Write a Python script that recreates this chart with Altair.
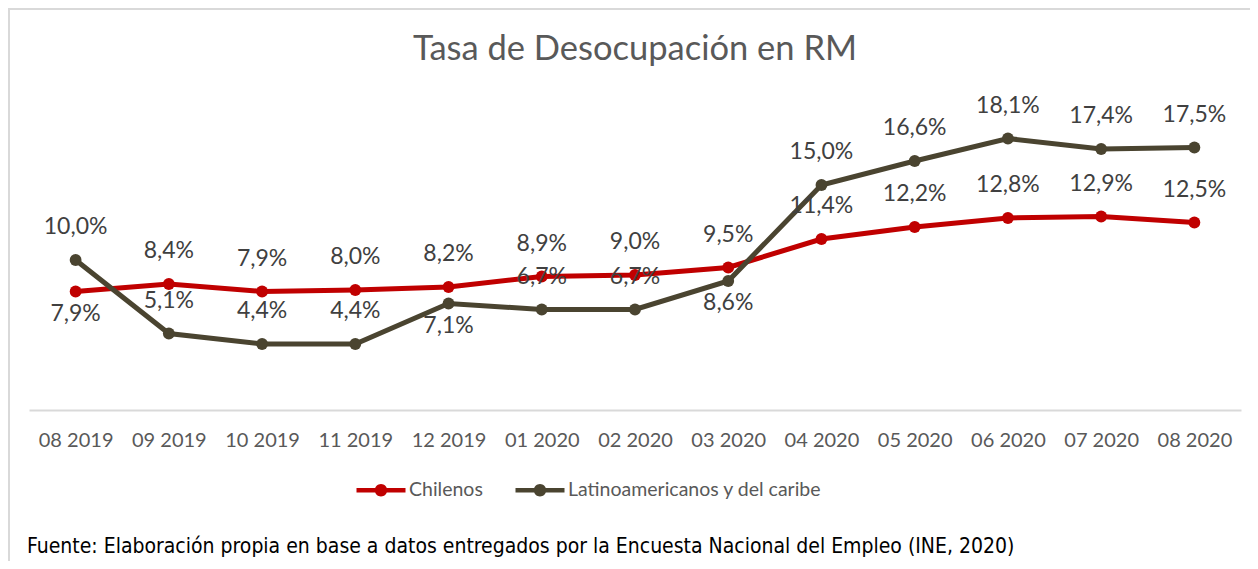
import altair as alt
import pandas as pd

months = ["08 2019", "09 2019", "10 2019", "11 2019", "12 2019", "01 2020", "02 2020",
          "03 2020", "04 2020", "05 2020", "06 2020", "07 2020", "08 2020"]
chilenos = [7.9, 8.4, 7.9, 8.0, 8.2, 8.9, 9.0, 9.5, 11.4, 12.2, 12.8, 12.9, 12.5]
latam = [10.0, 5.1, 4.4, 4.4, 7.1, 6.7, 6.7, 8.6, 15.0, 16.6, 18.1, 17.4, 17.5]
series_names = ["Chilenos", "Latinoamericanos y del caribe"]
title_text = "Tasa de Desocupación en RM"
source_text = "Fuente: Elaboración  propia en base a datos entregados por la Encuesta Nacional del Empleo (INE, 2020)"

# which labels sit below their point (index into months)
below = {"Chilenos": {0}, "Latinoamericanos y del caribe": {4, 7}}

rows = []
for name, vals in zip(series_names, [chilenos, latam]):
    for i, (m, v) in enumerate(zip(months, vals)):
        rows.append({
            "mes": m, "serie": name, "valor": v,
            "label": f"{v:.1f}".replace(".", ",") + "%",
            "below": i in below[name],
        })
df = pd.DataFrame(rows)

colors = ["#C00000", "#4A4430"]
FONT = "Lato"

W, H = 1212, 300
PL, PT = 21, 102

sym = ("M-2.45,-0.22H-0.55V0.22H-2.45Z "
       "M0.62,0A0.62,0.62,0,1,1,-0.62,0A0.62,0.62,0,1,1,0.62,0Z "
       "M0.55,-0.22H2.45V0.22H0.55Z")

legend = alt.Legend(
    title=None, orient="none", direction="horizontal",
    legendX=342, legendY=H + 70,
    symbolType=sym, symbolSize=400, symbolStrokeWidth=0,
    labelFont=FONT, labelFontSize=19.5, labelColor="#595959", labelLimit=500,
    labelOffset=18, columnPadding=32,
)

x = alt.X("mes:N", sort=months, title=None,
          scale=alt.Scale(paddingOuter=0.5, paddingInner=0),
          axis=alt.Axis(labelAngle=0, ticks=False, domainColor="#d9d9d9", domainWidth=2,
                        labelFont=FONT, labelFontSize=20, labelColor="#595959",
                        labelPadding=20, grid=False))
y = alt.Y("valor:Q", scale=alt.Scale(domain=[0, 20]), axis=None)
color = alt.Color("serie:N", sort=series_names,
                  scale=alt.Scale(domain=series_names, range=colors), legend=legend)

base = alt.Chart(df)
lines = base.mark_line(strokeWidth=5).encode(x=x, y=y, color=color)
pts = base.mark_circle(size=140, opacity=1).encode(x=x, y=y, color=color)

labels_above = base.transform_filter("!datum.below").mark_text(
    font=FONT, fontSize=23, color="#404040", dy=-33, baseline="middle"
).encode(x=x, y=y, text="label:N")
labels_below = base.transform_filter("datum.below").mark_text(
    font=FONT, fontSize=23, color="#404040", dy=22, baseline="middle"
).encode(x=x, y=y, text="label:N")

deco = alt.Chart(pd.DataFrame({"k": [0]}))
border_left = deco.mark_rule(color="#d9d9d9", strokeWidth=2).encode(
    x=alt.value(-PL + 1), y=alt.value(-PT), y2=alt.value(H + 200))
border_top = deco.mark_rule(color="#d9d9d9", strokeWidth=2).encode(
    y=alt.value(-PT + 1), x=alt.value(-PL), x2=alt.value(W + 40))
title = deco.mark_text(
    font=FONT, fontSize=34.5, color="#595959", align="center", baseline="middle"
).encode(x=alt.value(W / 2), y=alt.value(-60), text=alt.value(title_text))
source = deco.mark_text(
    font="DejaVu Sans Condensed", fontSize=21, color="#000000", align="left", baseline="middle"
).encode(x=alt.value(-2), y=alt.value(H + 137), text=alt.value(source_text))

chart = alt.layer(
    border_left, border_top, title, lines, pts, labels_above, labels_below, source
).properties(
    width=W, height=H,
    autosize=alt.AutoSizeParams(type="none"),
    padding={"left": PL, "top": PT, "right": 9, "bottom": 151},
).configure_view(stroke=None)

chart.save("out.html", embed_options={"renderer": "svg", "actions": False})
